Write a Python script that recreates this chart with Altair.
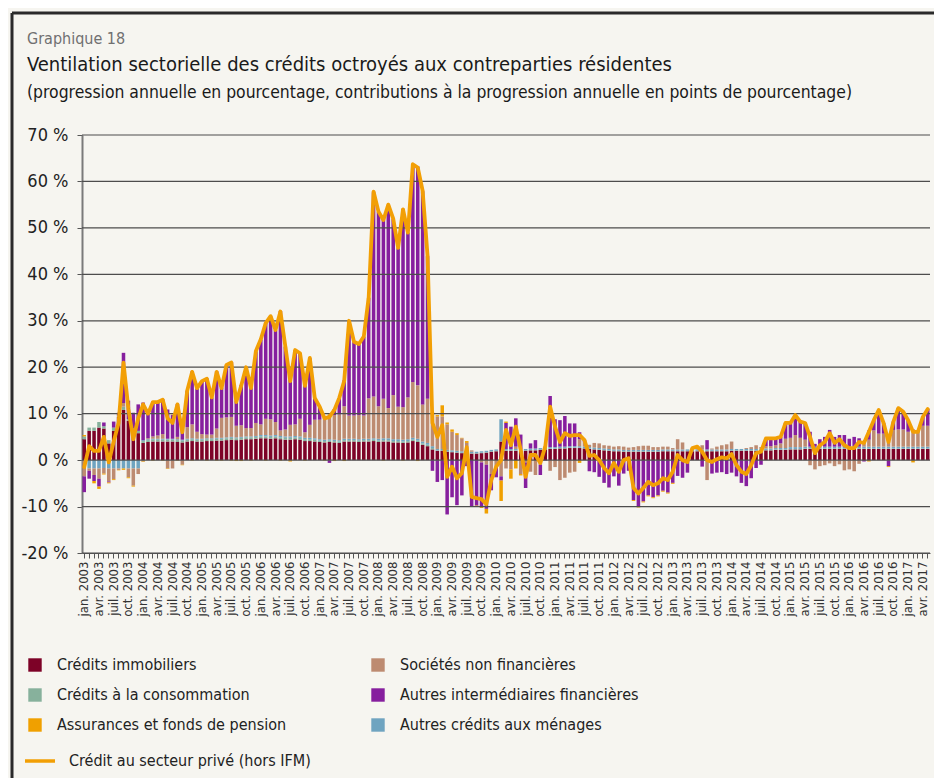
import altair as alt
import pandas as pd

FONT = "Liberation Sans Narrow, DejaVu Sans Condensed, Roboto, sans-serif"

# ---------------- categories ----------------
MONTH_ABBR = ["jan.", "fév.", "mars", "avr.", "mai", "juin",
              "juil.", "août", "sept.", "oct.", "nov.", "déc."]
N_MONTHS = 173  # jan. 2003 -> mai 2017
MONTHS = [f"{MONTH_ABBR[k % 12]} {2003 + k // 12}" for k in range(N_MONTHS)]

S_IMMO = "Crédits immobiliers"
S_SNF = "Sociétés non financières"
S_CONSO = "Crédits à la consommation"
S_AIF = "Autres intermédiaires financières"
S_ASSUR = "Assurances et fonds de pension"
S_MEN = "Autres crédits aux ménages"
LINE_NAME = "Crédit au secteur privé (hors IFM)"

# legend is filled column by column
LEGEND_ORDER = [S_IMMO, S_CONSO, S_ASSUR, S_SNF, S_AIF, S_MEN]
COLORS = ["#7d0227", "#87b19c", "#f0a000", "#bd8b71", "#861f9e", "#6fa4c0"]
STACK_ORDER = [S_IMMO, S_CONSO, S_MEN, S_SNF, S_AIF, S_ASSUR]

Y_TICKS = [-20, -10, 0, 10, 20, 30, 40, 50, 60, 70]

# ---------------- values (one row per year) ----------------
LINE = [
    -1.5, 3, 2, 2, 5, -0.5, 4, 8, 21, 11, 4.5, 9,
    12, 10, 12.5, 12.5, 13, 9, 8, 12, 6, 15, 19, 15.5,
    17, 17.5, 13.5, 19, 15.5, 20.5, 21, 12.5, 16, 20, 15.5, 23.5,
    26, 29.5, 31, 28, 32, 24.5, 17, 23.7, 23, 16, 22, 13.4,
    11.5, 9, 9.3, 10.8, 13.4, 17, 30, 25.5, 25, 26.6, 35, 57.8,
    53.5, 51.7, 55, 52, 45.7, 54, 49, 63.7, 63, 58, 44, 8,
    5, 7.5, -3.6, -1.4, -3.9, -2.8, 2.8, -7.9, -8.2, -8.4, -9.5, -4.3,
    -1.4, 0, 6.5, 3.2, 7.2, 2.2, -3.6, 1.1, 1.1, -0.6, 2.9, 11.5,
    7.2, 3.9, 5.8, 5.2, 5.4, 5.4, 4.3, 0.9, 1.1, 0, -1.7, -2.8,
    -0.6, -2.5, 0, 0.4, -6, -7.2, -6, -4.7, -5.4, -5, -3.9, -4.3,
    -2.5, 1.1, 0, -0.4, 2.6, 2.9, 1.8, 0, -0.4, 0.2, 0.6, 0.4,
    1.3, -1.1, -2.5, -3.0, -1.1, 1.5, 1.8, 4.7, 4.7, 4.7, 5.0, 8.0,
    8.0, 9.7, 8.3, 8.0, 5.0, 1.5, 3.2, 3.9, 5.8, 3.7, 4.5, 3.2,
    2.6, 2.6, 3.9, 3.7, 6.1, 8.6, 10.8, 8.0, 3.9, 8.3, 11.2, 10.4,
    8.6, 6.1, 6.1, 9.3, 11,
]

IMMO = [
    4.5, 6.3, 6.3, 7.0, 6.8, 3.6, 6.3, 9.3, 10.8, 8.5, 6.3, 5.8,
    3.7, 3.9, 4.0, 4.0, 4.0, 4.0, 4.0, 3.9, 3.8, 4.0, 4.1, 4.0,
    4.0, 4.1, 4.1, 4.2, 4.2, 4.3, 4.4, 4.3, 4.4, 4.5, 4.5, 4.6,
    4.7, 4.7, 4.6, 4.7, 4.5, 4.4, 4.4, 4.5, 4.4, 4.1, 4.1, 4.0,
    3.9, 3.8, 3.9, 3.8, 3.7, 4.0, 4.0, 4.0, 3.9, 4.0, 4.0, 4.1,
    3.9, 4.0, 4.0, 3.8, 3.8, 3.7, 3.8, 4.1, 3.9, 3.3, 3.0, 2.3,
    2.0, 2.0, 1.8, 1.7, 1.6, 1.5, 1.5, 1.4, 1.4, 1.5, 1.6, 1.8,
    1.9, 4.0, 2.0, 2.0, 2.0, 2.0, 2.0, 2.1, 2.1, 2.2, 2.3, 2.4,
    2.4, 2.5, 2.5, 2.6, 2.6, 2.6, 2.5, 2.4, 2.3, 2.2, 2.1, 2.0,
    1.9, 1.9, 1.8, 1.8, 1.8, 1.8, 1.8, 1.8, 1.8, 1.8, 1.9, 1.9,
    1.9, 1.9, 1.9, 1.9, 1.9, 1.9, 1.9, 1.9, 1.9, 1.9, 1.9, 1.9,
    2.0, 2.0, 2.0, 2.0, 2.0, 2.0, 2.1, 2.1, 2.1, 2.2, 2.2, 2.2,
    2.3, 2.3, 2.3, 2.4, 2.4, 2.4, 2.4, 2.4, 2.4, 2.4, 2.4, 2.4,
    2.4, 2.4, 2.4, 2.4, 2.4, 2.4, 2.4, 2.4, 2.4, 2.4, 2.4, 2.4,
    2.4, 2.4, 2.4, 2.4, 2.4,
]

CONSO = [
    0.6, 0.7, 0.7, 1.2, 0.5, 0.7, 0.7, 0.3, 0.7, 0.3, 0.5, 0.5,
    0.4, 0.4, 0.4, 0.4, 0.4, 0.4, 0.4, 0.4, 0.4, 0.4, 0.4, 0.4,
    0.4, 0.4, 0.4, 0.4, 0.4, 0.4, 0.4, 0.4, 0.4, 0.4, 0.4, 0.4,
    0.4, 0.4, 0.4, 0.4, 0.4, 0.4, 0.4, 0.4, 0.4, 0.4, 0.4, 0.4,
    0.3, 0.3, 0.3, 0.3, 0.3, 0.3, 0.3, 0.3, 0.3, 0.3, 0.3, 0.3,
    0.3, 0.3, 0.3, 0.3, 0.3, 0.3, 0.3, 0.3, 0.3, 0.3, 0.3, 0.3,
    0.1, 0.1, 0.1, 0.1, 0.1, 0.1, 0.1, 0.1, 0.1, 0.1, 0.1, 0.1,
    0.1, 0.1, 0.1, 0.1, 0.1, 0.1, 0.1, 0.1, 0.1, 0.1, 0.1, 0.1,
    0.1, 0.1, 0.1, 0.1, 0.1, 0.1, 0.1, 0.1, 0.1, 0.1, 0.1, 0.1,
    0.1, 0.1, 0.1, 0.1, 0.1, 0.1, 0.1, 0.1, 0.1, 0.1, 0.1, 0.1,
    0.1, 0.1, 0.1, 0.1, 0.1, 0.1, 0.1, 0.1, 0.1, 0.1, 0.1, 0.1,
    0.1, 0.1, 0.1, 0.1, 0.1, 0.1, 0.1, 0.1, 0.1, 0.1, 0.1, 0.1,
    0.1, 0.1, 0.1, 0.1, 0.1, 0.1, 0.1, 0.1, 0.1, 0.1, 0.1, 0.1,
    0.1, 0.1, 0.1, 0.1, 0.1, 0.1, 0.1, 0.1, 0.1, 0.1, 0.1, 0.1,
    0.1, 0.1, 0.1, 0.1, 0.1,
]

MENAGES = [
    0.0, -1.8, -1.8, -1.8, -1.7, -1.8, -1.8, -1.8, -1.8, -1.8, -1.8, -1.8,
    0.2, 0.2, 0.2, 0.2, 0.2, 0.2, 0.2, 0.2, 0.2, 0.2, 0.2, 0.2,
    0.2, 0.2, 0.2, 0.2, 0.2, 0.2, 0.2, 0.2, 0.2, 0.2, 0.2, 0.2,
    0.3, 0.3, 0.3, 0.3, 0.3, 0.3, 0.3, 0.3, 0.3, 0.3, 0.3, 0.3,
    0.3, 0.3, 0.3, 0.3, 0.3, 0.3, 0.3, 0.3, 0.3, 0.3, 0.3, 0.3,
    0.4, 0.4, 0.4, 0.4, 0.4, 0.4, 0.4, 0.4, 0.4, 0.4, 0.4, 0.4,
    0.3, 0.3, 0.3, 0.3, 0.3, 0.3, 0.3, 0.3, 0.3, 0.3, 0.3, 0.3,
    0.3, 4.7, 0.3, 0.3, 0.3, 0.3, 0.3, 0.3, 0.3, 0.3, 0.3, 0.3,
    0.3, 0.3, 0.3, 0.3, 0.3, 0.3, 0.3, 0.3, 0.3, 0.3, 0.3, 0.3,
    0.3, 0.3, 0.3, 0.3, 0.3, 0.3, 0.3, 0.3, 0.3, 0.3, 0.3, 0.3,
    0.3, 0.3, 0.3, 0.3, 0.3, 0.3, 0.3, 0.3, 0.3, 0.3, 0.3, 0.3,
    0.3, 0.3, 0.3, 0.3, 0.3, 0.3, 0.3, 0.3, 0.3, 0.3, 0.3, 0.3,
    0.4, 0.4, 0.4, 0.4, 0.4, 0.4, 0.4, 0.4, 0.4, 0.4, 0.4, 0.4,
    0.4, 0.4, 0.4, 0.4, 0.4, 0.4, 0.4, 0.4, 0.4, 0.4, 0.4, 0.4,
    0.4, 0.4, 0.4, 0.4, 0.4,
]

SNF = [
    -3.5, -0.5, -1.4, -2.2, -1.2, -2.8, -2.3, -0.3, 0.8, -1.9, -3.7, -1.2,
    -0.3, 0.2, 0.5, 0.7, 1.0, -1.8, -1.8, 0.5, -1.0, 2.5, 3.0, 1.5,
    1.0, 0.8, 0.8, 2.0, 4.3, 4.3, 4.3, 2.5, 2.5, 1.8, 1.8, 2.8,
    2.3, 3.5, 3.5, 2.8, 1.2, 1.5, 2.5, 2.5, 3.8, 1.2, 2.8, 4.0,
    4.2, 4.5, 5.3, 5.3, 5.5, 7.0, 5.0, 5.0, 5.2, 5.0, 8.7, 9.0,
    7.0, 8.5, 6.5, 9.5, 7.0, 7.0, 9.0, 12.0, 11.5, 8.0, 9.5, 7.0,
    7.0, 7.0, 5.5, 4.0, 3.4, 2.8, 1.8, 0.3, 0.0, -0.5, -1.0, -3.0,
    -1.5, -3.5, -1.8, -2.0, 0.5, -3.0, -0.5, -2.5, -3.2, -1.0, 0.3, -2.3,
    -1.5, -4.3, -3.8, -2.7, -2.5, 1.5, 1.0, 0.5, 1.0, 1.0, 0.7, 0.7,
    0.6, 0.7, 0.7, 0.5, 0.6, 0.8, 0.9, 0.9, 0.6, 0.6, 0.6, 0.6,
    0.3, 2.2, 1.5, 0.0, 0.3, 0.5, 0.9, -4.3, 0.2, 0.6, 0.9, 1.1,
    1.6, 0.0, 0.0, 0.2, 0.4, 0.8, 0.3, 0.5, 0.5, 0.6, 1.0, 2.0,
    2.0, 2.6, 2.0, 1.5, -1.1, -2.0, -1.3, -1.1, -0.7, -1.3, -0.9, -2.2,
    -2.0, -2.4, -0.8, 1.1, 1.5, 3.5, 2.8, 2.8, 2.5, 3.6, 3.7, 3.7,
    3.2, 3.2, 3.2, 4.5, 4.5,
]

AIF = [
    -3.4, -1.7, -1.3, -1.7, 0.8, -0.2, 1.3, 0.6, 10.8, 4.0, 3.4, 5.7,
    8.1, 5.2, 7.5, 7.1, 7.5, 6.3, 5.1, 7.1, 2.7, 7.8, 11.4, 9.3,
    11.3, 12.1, 7.9, 12.3, 6.5, 11.2, 11.8, 5.3, 8.7, 13.0, 8.7, 15.4,
    18.2, 20.7, 22.1, 19.7, 25.7, 17.8, 9.7, 15.9, 14.0, 10.1, 14.3, 4.6,
    2.7, 0.2, -0.6, 1.3, 3.5, 5.6, 20.3, 15.8, 15.2, 16.9, 21.6, 44.0,
    41.8, 38.6, 43.7, 37.9, 34.1, 42.7, 35.4, 46.8, 47.1, 45.9, 30.7, -2.3,
    -4.7, -4.3, -11.7, -8.0, -9.7, -7.6, -1.3, -10.0, -9.8, -9.5, -9.5, -3.5,
    -2.2, -0.9, 5.6, 4.8, 6.1, 3.1, -5.5, 1.1, 1.8, -2.2, -0.1, 11.0,
    6.0, 5.7, 6.6, 4.9, 4.9, 1.5, 0.4, -2.4, -2.6, -3.6, -4.9, -5.9,
    -3.5, -5.5, -2.9, -2.3, -8.6, -10.0, -8.9, -7.6, -8.0, -7.6, -6.6, -7.0,
    -4.9, -3.4, -3.8, -2.7, 0.0, 0.1, -1.4, 2.0, -2.9, -2.7, -2.6, -3.0,
    -2.7, -3.5, -4.9, -5.6, -3.9, -1.7, -1.0, 1.7, 1.7, 1.5, 1.4, 3.4,
    3.2, 4.3, 3.5, 3.6, 3.2, 0.6, 1.6, 2.1, 3.6, 2.1, 2.5, 2.5,
    1.7, 2.1, 1.8, -0.3, 2.0, 2.2, 5.1, 2.3, -1.3, 1.8, 4.6, 3.8,
    2.5, 0.5, 0.0, 1.9, 3.6,
]

ASSUR = [
    0.3, 0.0, -0.5, -0.5, -0.2, -0.2, -0.2, -0.1, -0.3, -0.2, -0.2, 0.0,
    -0.1, 0.1, -0.1, 0.1, -0.1, -0.1, 0.1, -0.1, -0.1, 0.1, -0.1, 0.1,
    0.1, -0.1, 0.1, -0.1, -0.1, 0.1, -0.1, -0.2, -0.2, 0.1, -0.1, 0.1,
    0.1, -0.1, 0.1, 0.1, -0.1, 0.1, -0.3, 0.1, 0.1, -0.1, 0.1, 0.1,
    0.1, -0.1, 0.1, -0.2, 0.1, -0.2, 0.1, 0.1, 0.1, 0.1, 0.1, 0.1,
    0.1, -0.1, 0.1, 0.1, 0.1, -0.1, 0.1, 0.1, -0.2, 0.1, 0.1, 0.3,
    0.3, 2.4, 0.4, 0.5, 0.4, 0.1, 0.4, 0.0, -0.2, -0.3, -1.0, 0.0,
    0.0, -4.4, 0.3, -2.0, -1.8, -0.3, 0.0, 0.0, 0.0, 0.0, 0.0, 0.0,
    0.0, 0.0, 0.0, 0.0, 0.0, -0.6, 0.0, 0.0, 0.0, 0.0, 0.0, 0.0,
    0.0, 0.0, 0.0, 0.0, -0.2, -0.2, -0.2, -0.2, -0.2, -0.2, -0.2, -0.2,
    -0.2, 0.0, 0.0, 0.0, 0.0, 0.0, 0.0, 0.0, 0.0, 0.0, 0.0, 0.0,
    0.0, 0.0, 0.0, 0.0, 0.0, 0.0, 0.0, 0.0, 0.0, 0.0, 0.0, 0.0,
    0.0, 0.0, 0.0, 0.0, 0.0, 0.0, 0.0, 0.0, 0.0, 0.0, 0.0, 0.0,
    0.0, 0.0, 0.0, 0.0, -0.3, 0.0, 0.0, 0.0, -0.2, 0.0, 0.0, 0.0,
    0.0, -0.5, 0.0, 0.0, 0.0,
]

SERIES = {S_IMMO: IMMO, S_CONSO: CONSO, S_MEN: MENAGES,
          S_SNF: SNF, S_AIF: AIF, S_ASSUR: ASSUR}
for _name, _vals in SERIES.items():
    assert len(_vals) == N_MONTHS, (_name, len(_vals))
assert len(LINE) == N_MONTHS

# ---------------- tables ----------------
rows = []
for name in STACK_ORDER:
    for k, v in enumerate(SERIES[name]):
        rows.append({"mois": MONTHS[k], "serie": name,
                     "ordre": STACK_ORDER.index(name), "valeur": v})
df_bars = pd.DataFrame(rows)
df_line = pd.DataFrame({"mois": MONTHS, "valeur": LINE, "nom": LINE_NAME})
df_grid = pd.DataFrame({"valeur": Y_TICKS})

X_SCALE = alt.Scale(type="band", domain=MONTHS, paddingInner=0.28, paddingOuter=0.1)
Y_SCALE = alt.Scale(domain=[-20, 70], nice=False, zero=False)

x_axis = alt.Axis(
    title=None, labelAngle=-90, labelFontSize=13, labelFont=FONT,
    labelColor="#333333", labelPadding=3, labelOverlap=False,
    labelExpr="(indexof(datum.label, 'jan.') == 0 || indexof(datum.label, 'avr.') == 0 || "
              "indexof(datum.label, 'juil.') == 0 || indexof(datum.label, 'oct.') == 0) ? datum.label : ''",
    ticks=True, tickSize=5, tickColor="#555555", tickWidth=1,
    domain=True, domainColor="#555555", grid=False,
)
y_axis = alt.Axis(
    title=None, values=Y_TICKS, labelExpr="datum.value + ' %'",
    labelFontSize=18, labelFont=FONT, labelColor="#222222", labelPadding=9,
    ticks=True, tickSize=5, tickColor="#555555",
    domain=True, domainColor="#7a7a7a", domainWidth=2, grid=False,
)

bars = alt.Chart(df_bars).mark_bar().encode(
    x=alt.X("mois:N", scale=X_SCALE, axis=x_axis),
    y=alt.Y("valeur:Q", stack="zero", scale=Y_SCALE, axis=y_axis),
    color=alt.Color(
        "serie:N",
        scale=alt.Scale(domain=LEGEND_ORDER, range=COLORS),
        legend=alt.Legend(
            title=None, orient="none", legendX=-55, legendY=522, columns=2,
            columnPadding=83, rowPadding=14, symbolType="square", symbolSize=180,
            symbolStrokeWidth=0, labelFontSize=16, labelFont=FONT,
            labelColor="#222222", labelOffset=14, labelLimit=400, padding=0,
        ),
    ),
    order=alt.Order("ordre:Q", sort="ascending"),
)

grid = alt.Chart(df_grid).mark_rule(color="#4d4d4d", strokeWidth=1.2).encode(
    y=alt.Y("valeur:Q", scale=Y_SCALE, axis=y_axis),
)

line = alt.Chart(df_line).mark_line(strokeWidth=3.8, strokeJoin="round", strokeCap="round").encode(
    x=alt.X("mois:N", scale=X_SCALE, axis=x_axis),
    y=alt.Y("valeur:Q", scale=Y_SCALE, axis=y_axis),
    stroke=alt.Stroke(
        "nom:N",
        scale=alt.Scale(domain=[LINE_NAME], range=["#f29f05"]),
        legend=alt.Legend(
            title=None, orient="none", legendX=-59, legendY=609,
            symbolType="stroke", symbolSize=900, symbolStrokeWidth=3.5,
            labelFontSize=16, labelFont=FONT, labelColor="#222222",
            labelOffset=12, labelLimit=400, padding=0,
        ),
    ),
)

one = alt.Data(values=[{}])
t_num = alt.Chart(one).mark_text(
    text="Graphique 18", align="left", baseline="middle",
    fontSize=16, font=FONT, color="#707070",
).encode(x=alt.value(-55), y=alt.value(-96))
t_title = alt.Chart(one).mark_text(
    text="Ventilation sectorielle des crédits octroyés aux contreparties résidentes",
    align="left", baseline="middle", fontSize=20, font=FONT, color="#1a1a1a",
).encode(x=alt.value(-55), y=alt.value(-70))
t_sub = alt.Chart(one).mark_text(
    text="(progression annuelle en pourcentage, contributions à la progression annuelle en points de pourcentage)",
    align="left", baseline="middle", fontSize=17.4, font=FONT, color="#1a1a1a",
).encode(x=alt.value(-55), y=alt.value(-42))

frame_top = alt.Chart(one).mark_rule(color="#2a2a2a", strokeWidth=3).encode(
    x=alt.value(-70), x2=alt.value(900), y=alt.value(-122))
frame_left = alt.Chart(one).mark_rule(color="#2a2a2a", strokeWidth=3).encode(
    x=alt.value(-70), y=alt.value(-122), y2=alt.value(700))

chart = alt.layer(
    bars, grid, line, t_num, t_title, t_sub, frame_top, frame_left
).resolve_scale(
    color="independent", stroke="independent"
).properties(
    width=848, height=418,
    autosize=alt.AutoSizeParams(type="none"),
    padding={"left": 74, "top": 127, "right": 4, "bottom": 225},
    background="#f6f5f0",
).configure_view(stroke=None)

chart.save("out.html", embed_options={"renderer": "svg", "actions": False})
